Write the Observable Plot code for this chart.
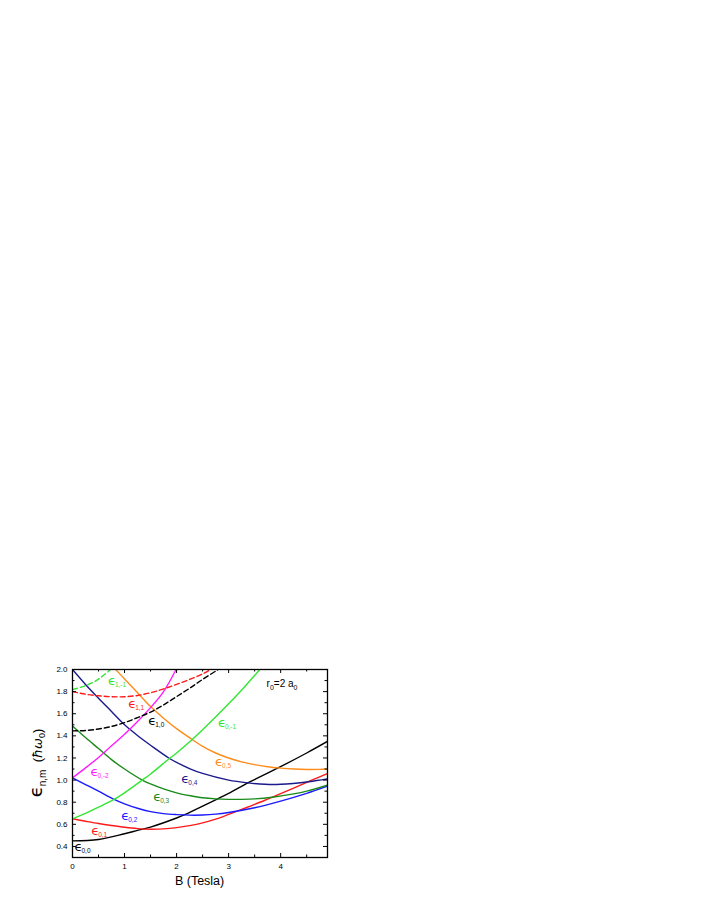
<!DOCTYPE html>
<html><head><meta charset="utf-8">
<script src="https://cdn.jsdelivr.net/npm/d3@7"></script>
<script src="https://cdn.jsdelivr.net/npm/@observablehq/plot@0.6"></script>
<style>body{margin:0;background:#fff;} svg{display:block}</style>
</head><body><div id="chart"></div>
<script>
// ---- tick values ----
const xMajor = [0, 1, 2, 3, 4];
const xMinor = [0.5, 1.5, 2.5, 3.5, 4.5];
const yMajor = [0.4, 0.6, 0.8, 1.0, 1.2, 1.4, 1.6, 1.8, 2.0];
const yMinor = [0.3, 0.5, 0.7, 0.9, 1.1, 1.3, 1.5, 1.7, 1.9];

// ---- curves [B (Tesla), energy (hbar omega0)] ----
const eps00 = [[0,0.45],[0.5,0.463],[1,0.515],[1.25,0.545],[1.5,0.575],[2,0.657],[2.17,0.69],[2.5,0.765],[2.81,0.835],[3,0.88],[3.37,0.975],[3.5,1.005],[3.95,1.11],[4.5,1.245],[4.9,1.35]];
const eps01 = [[0,0.65],[0.25,0.628],[0.5,0.607],[0.75,0.589],[1,0.573],[1.25,0.561],[1.5,0.556],[1.75,0.559],[2,0.57],[2.25,0.588],[2.5,0.613],[2.75,0.647],[3,0.69],[3.25,0.735],[3.5,0.78],[3.75,0.828],[4,0.877],[4.25,0.928],[4.5,0.98],[4.75,1.03],[4.9,1.06]];
const eps02 = [[0,1.02],[0.25,0.96],[0.5,0.9],[0.8,0.826],[1,0.785],[1.25,0.745],[1.5,0.715],[1.75,0.697],[2,0.688],[2.25,0.683],[2.5,0.684],[2.75,0.692],[3,0.707],[3.5,0.75],[4,0.81],[4.5,0.88],[4.9,0.945]];
const eps03 = [[0,1.49],[0.25,1.385],[0.5,1.285],[0.75,1.185],[1,1.1],[1.34,1.0],[1.5,0.965],[1.75,0.92],[2,0.885],[2.27,0.858],[2.5,0.84],[2.75,0.83],[3,0.826],[3.25,0.826],[3.5,0.83],[3.84,0.845],[4.25,0.875],[4.5,0.9],[4.9,0.955]];
const eps04 = [[0,2.0],[0.25,1.865],[0.5,1.74],[0.75,1.62],[1,1.5],[1.1,1.46],[1.31,1.38],[1.5,1.315],[1.85,1.2],[2,1.16],[2.27,1.1],[2.5,1.06],[3,1.0],[3.37,0.975],[3.7,0.962],[4,0.962],[4.54,0.985],[4.9,1.01]];
const eps05 = [[0.83,2.0],[1,1.915],[1.25,1.79],[1.5,1.665],[1.75,1.56],[2,1.465],[2.29,1.37],[2.5,1.305],[2.75,1.245],[3,1.2],[3.25,1.165],[3.5,1.14],[3.75,1.12],[4,1.108],[4.25,1.1],[4.5,1.096],[4.75,1.097],[4.9,1.1]];
const eps0m1 = [[0,0.65],[0.25,0.7],[0.5,0.755],[0.8,0.826],[1,0.885],[1.34,1.0],[1.5,1.055],[1.85,1.19],[2,1.245],[2.29,1.362],[2.5,1.455],[3,1.69],[3.3,1.84],[3.6,2.0]];
const eps0m2 = [[0,1.02],[0.25,1.11],[0.5,1.205],[0.75,1.31],[1,1.415],[1.25,1.53],[1.5,1.655],[1.75,1.8],[1.99,2.0]];
const eps1m1 = [[0,1.82],[0.2,1.845],[0.4,1.885],[0.55,1.93],[0.73,2.0]];
const eps11 = [[0,1.8],[0.25,1.777],[0.5,1.762],[0.75,1.754],[1,1.754],[1.25,1.765],[1.5,1.79],[1.75,1.825],[2,1.865],[2.25,1.91],[2.5,1.96],[2.65,2.0]];
const eps10 = [[0,1.445],[0.25,1.449],[0.5,1.462],[0.75,1.485],[1,1.52],[1.25,1.565],[1.5,1.615],[1.75,1.68],[2,1.755],[2.25,1.83],[2.5,1.91],[2.8,2.0]];

// ---- curve labels ----
const labelSub = ["1,-1","1,1","1,0","0,-1","0,5","0,4","0,3","0,-2","0,2","0,1","0,0"];
const labelB   = [0.68, 1.07, 1.455, 2.795, 2.74, 2.09, 1.55, 0.346, 0.936, 0.359, 0.038];
const labelE   = [1.90, 1.687, 1.536, 1.515, 1.165, 1.015, 0.849, 1.075, 0.675, 0.542, 0.392];

// ---- styles ----
const styles = {
  "0,0":  {data: eps00,  color: "#000000", dash: null},
  "0,1":  {data: eps01,  color: "#ff1a1a", dash: null},
  "0,2":  {data: eps02,  color: "#1a1aff", dash: null},
  "0,3":  {data: eps03,  color: "#1a8a1a", dash: null},
  "0,4":  {data: eps04,  color: "#1a1a8c", dash: null},
  "0,5":  {data: eps05,  color: "#ff8c1a", dash: null},
  "0,-1": {data: eps0m1, color: "#33e633", dash: null},
  "0,-2": {data: eps0m2, color: "#ff1aff", dash: null},
  "1,-1": {data: eps1m1, color: "#33e633", dash: "5,3"},
  "1,1":  {data: eps11,  color: "#ff1a1a", dash: "5,3"},
  "1,0":  {data: eps10,  color: "#000000", dash: "5,3"}
};

const W = 701, H = 908, mL = 72, mR = 374, mT = 669, mB = 51;
const fw = W - mL - mR, fh = H - mT - mB;
const font = "'Liberation Sans', Arial, sans-serif";

const marks = [];
for (const [key, s] of Object.entries(styles)) {
  marks.push(Plot.line(s.data, {x: d => d[0], y: d => d[1], stroke: s.color, strokeWidth: 1.4,
    strokeDasharray: s.dash, curve: "catmull-rom", clip: true}));
}
labelSub.forEach((sub, i) => {
  const c = styles[sub].color;
  const row = [{B: labelB[i], E: labelE[i]}];
  marks.push(Plot.text(row, {x: "B", y: "E", text: () => "\u03F5", fill: c, fontSize: 13,
    textAnchor: "start", lineAnchor: "middle", fontFamily: "DejaVu Sans, sans-serif"}));
  marks.push(Plot.text(row, {x: "B", y: "E", text: () => sub, fill: c, fontSize: 6.5,
    textAnchor: "start", lineAnchor: "middle", dx: 7, dy: 4, fontFamily: font}));
});
// inward ticks on four sides
marks.push(
  Plot.tickX(xMajor, {x: d => d, insetTop: fh - 4, stroke: "black"}),
  Plot.tickX(xMinor, {x: d => d, insetTop: fh - 2.5, stroke: "black"}),
  Plot.tickX(xMajor, {x: d => d, insetBottom: fh - 4, stroke: "black"}),
  Plot.tickX(xMinor, {x: d => d, insetBottom: fh - 2.5, stroke: "black"}),
  Plot.tickY(yMajor, {y: d => d, insetRight: fw - 4, stroke: "black"}),
  Plot.tickY(yMinor, {y: d => d, insetRight: fw - 2.5, stroke: "black"}),
  Plot.tickY(yMajor, {y: d => d, insetLeft: fw - 4, stroke: "black"}),
  Plot.tickY(yMinor, {y: d => d, insetLeft: fw - 2.5, stroke: "black"}),
  Plot.axisX(xMajor, {anchor: "bottom", tickSize: 0, tickPadding: 6, fontSize: 8, label: null}),
  Plot.axisY(yMajor, {anchor: "left", tickSize: 0, tickPadding: 5, fontSize: 8, label: null, tickFormat: d3.format(".1f")}),
  Plot.frame({stroke: "black", strokeWidth: 1.3})
);

const chart = Plot.plot({
  width: W, height: H, marginLeft: mL, marginRight: mR, marginTop: mT, marginBottom: mB,
  x: {domain: [0, 4.9]}, y: {domain: [0.3, 2.0]},
  style: {fontFamily: font, background: "white", color: "black"},
  marks
});

const svg = d3.select(chart);
// y-axis title
const yt = svg.append("text").attr("transform", "translate(42,763) rotate(-90)")
  .attr("text-anchor", "middle").attr("fill", "black").style("font-family", font);
yt.append("tspan").attr("font-size", 18).style("font-family", "DejaVu Sans, sans-serif").text("\u03F5");
yt.append("tspan").attr("font-size", 10).attr("dy", 4).text("n,m");
yt.append("tspan").attr("font-size", 13).attr("dy", -4).text("  (");
yt.append("tspan").attr("font-size", 13).style("font-family", "DejaVu Sans, sans-serif").style("font-style", "italic").text("\u0127\u03C9");
yt.append("tspan").attr("font-size", 9).attr("dy", 3).text("0");
yt.append("tspan").attr("font-size", 13).attr("dy", -3).text(")");
// x-axis title
svg.append("text").attr("x", 199.6).attr("y", 885).attr("text-anchor", "middle")
  .attr("font-size", 12.5).style("font-family", font).attr("fill", "black").text("B (Tesla)");
// r0 annotation
const ann = svg.append("text").attr("x", 282).attr("y", 686.7).attr("fill", "black")
  .attr("font-size", 10).style("font-family", font);
ann.append("tspan").text("r");
ann.append("tspan").attr("font-size", 7).attr("dy", 3).text("0");
ann.append("tspan").attr("dy", -3).text("=2 a");
ann.append("tspan").attr("font-size", 7).attr("dy", 3).text("0");

document.getElementById("chart").appendChild(chart);
</script>
</body></html>
